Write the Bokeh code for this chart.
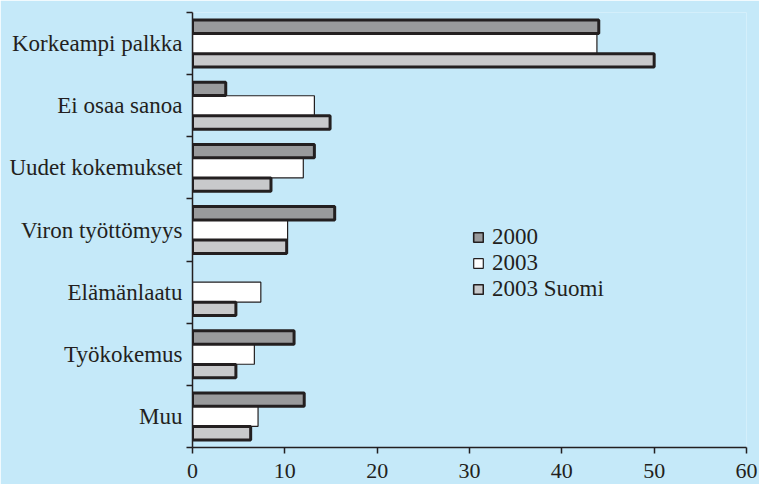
from bokeh.plotting import figure
from bokeh.models import (Range1d, FixedTicker, ColumnDataSource, Legend, LegendItem,
                          CDSView, BooleanFilter)
from bokeh.transform import dodge
from bokeh.embed import file_html
from bokeh.resources import INLINE

categories = ["Korkeampi palkka", "Ei osaa sanoa", "Uudet kokemukset", "Viron työttömyys",
              "Elämänlaatu", "Työkokemus", "Muu"]
v2000 = [44.0, 3.6, 13.2, 15.4, 0.0, 11.0, 12.1]
v2003 = [43.8, 13.2, 12.0, 10.3, 7.4, 6.7, 7.1]
v2003_suomi = [50.0, 14.9, 8.5, 10.2, 4.7, 4.7, 6.3]
series_names = ["2000", "2003", "2003 Suomi"]
x_ticks = [0, 10, 20, 30, 40, 50, 60]

BG = "#c5e9f9"
INK = "#231f20"
FONT = "Liberation Serif"
C2000 = "#999a9c"
CSUOMI = "#c8c9cb"

pos = list(range(len(categories)))
src = ColumnDataSource(dict(y=pos, a=v2000, b=v2003, c=v2003_suomi))

p = figure(width=759, height=484, output_backend="svg", toolbar_location=None,
           x_range=Range1d(0, 60), y_range=Range1d(len(categories) - 0.5, -0.5),
           min_border_left=192, min_border_right=13, min_border_top=12, min_border_bottom=37)
p.background_fill_color = BG
p.border_fill_color = BG
p.outline_line_color = None
p.xgrid.grid_line_color = None
p.ygrid.grid_line_color = None

# 2003 (white, thin outline) drawn first, between the other two bars
p.hbar(y="y", right="b", left=0, height=0.32, source=src,
       fill_color="white", line_color=INK, line_width=1.2)
nonzero = CDSView(filter=BooleanFilter([v > 0 for v in v2000]))
p.hbar(y=dodge("y", -0.27, range=p.y_range), right="a", left=0, height=0.215, source=src,
       view=nonzero, fill_color=C2000, line_color=INK, line_width=3)
p.hbar(y=dodge("y", 0.27, range=p.y_range), right="c", left=0, height=0.215, source=src,
       fill_color=CSUOMI, line_color=INK, line_width=3)

# legend-only renderers (invisible in the plot)
la = p.hbar(y="y", right="a", left=0, height=0.2, source=src,
            fill_color=C2000, line_color=INK, line_width=1.6, visible=False)
lb = p.hbar(y="y", right="b", left=0, height=0.2, source=src,
            fill_color="white", line_color=INK, line_width=1.2, visible=False)
lc = p.hbar(y="y", right="c", left=0, height=0.2, source=src,
            fill_color=CSUOMI, line_color=INK, line_width=1.6, visible=False)
legend = Legend(items=[LegendItem(label=series_names[0], renderers=[la]),
                       LegendItem(label=series_names[1], renderers=[lb]),
                       LegendItem(label=series_names[2], renderers=[lc])],
                location=(280, 145), glyph_width=12, glyph_height=12, label_height=24,
                spacing=0, padding=0, margin=0, label_standoff=8,
                label_text_font=FONT, label_text_font_size="23px", label_text_color=INK,
                background_fill_alpha=0, border_line_alpha=0)
p.add_layout(legend)

# x axis
xa = p.xaxis[0]
xa.ticker = FixedTicker(ticks=x_ticks)
xa.axis_line_color = INK
xa.axis_line_width = 1.5
xa.major_tick_line_color = INK
xa.major_tick_line_width = 1.5
xa.major_tick_out = 6
xa.major_tick_in = 0
xa.minor_tick_line_color = None
xa.major_label_standoff = 10
xa.major_label_text_font = FONT
xa.major_label_text_font_size = "22px"
xa.major_label_text_color = INK

# y axis: labels at category centres, ticks at boundaries
ya = p.yaxis[0]
ya.ticker = FixedTicker(ticks=pos, minor_ticks=[i - 0.5 for i in range(len(categories) + 1)])
ya.major_label_overrides = {i: c for i, c in enumerate(categories)}
ya.axis_line_color = INK
ya.axis_line_width = 1.5
ya.major_tick_line_color = None
ya.major_tick_out = 0
ya.major_tick_in = 0
ya.minor_tick_line_color = INK
ya.minor_tick_line_width = 1.5
ya.minor_tick_out = 6
ya.minor_tick_in = 0
ya.major_label_standoff = 4
ya.major_label_text_font = FONT
ya.major_label_text_font_size = "23px"
ya.major_label_text_color = INK

open("out.html", "w").write(file_html(p, INLINE))
